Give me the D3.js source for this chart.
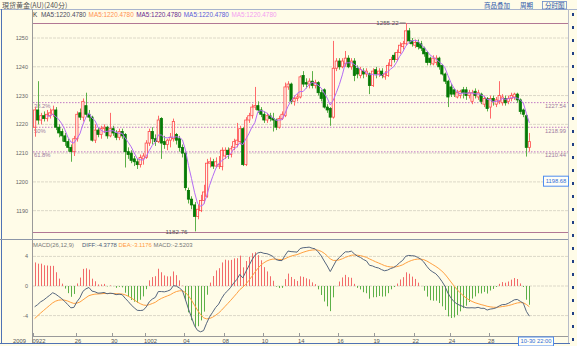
<!DOCTYPE html>
<html lang="zh">
<head>
<meta charset="UTF-8">
<title>現货黄金(AU)(240分)</title>
<style>
  html, body { margin: 0; padding: 0; background: #fffce8; overflow: hidden; }
  svg { display: block; font-family: "Liberation Sans", Arial, sans-serif; }
</style>
</head>
<body>
<svg id="chart" width="577" height="346"></svg>
<script src="https://d3js.org/d3.v7.min.js"></script>
<script>
// 240分 K线 (open / high / low / close)
const opens = [1219,1225,1221.5,1223,1222,1223,1223.5,1225,1219,1217.5,
  1216,1214,1212,1210.5,1215,1224,1222.5,1226.5,1223.5,1222.5,
  1214.5,1218,1216.5,1218.5,1219,1216,1218.5,1217,1215.5,1217.5,
  1216.5,1210.5,1210,1208,1207,1206,1208,1208.5,1213.5,1217.5,
  1215,1214,1222,1214,1213,1214.5,1215,1216.5,1215,1212,
  1210,1197,1194,1192,1188,1190,1193.5,1195,1206.5,1207,
  1205.5,1205.5,1205.3,1209,1211,1209.5,1212,1213,1214,1218.5,
  1206,1221.5,1223,1226,1226.5,1225,1223.5,1221.5,1223,1222,
  1221.5,1219,1222,1223,1233,1234,1228,1229,1229.5,1237,
  1234.5,1234,1235,1233.5,1234.5,1231,1232,1226,1225.5,1222.5,
  1239.5,1242,1240,1241,1243,1240,1242,1239.5,1237,1238.5,
  1237.5,1237.5,1233.5,1239,1237.5,1238.5,1236.5,1237,1240.5,1244,
  1242.5,1245,1247,1248,1252.5,1249,1247.5,1248.5,1248,1246.5,
  1245,1243,1241,1241.5,1243,1240.5,1237.5,1235,1233,1232,
  1229.5,1230,1232,1232,1230,1228,1231.5,1229.5,1230.5,1227,
  1229,1226,1229,1227,1228,1227.5,1229,1228,1229,1229.5,
  1230.5,1228.5,1225,1223,1212];
const highs = [1226,1235,1224,1224.5,1225,1225.5,1226.5,1226,1220,1218.5,
  1217,1215,1213,1216,1224.5,1225.5,1229,1231,1225,1223,
  1220,1219,1219.5,1220,1219.5,1224,1219.5,1218,1218.5,1218.5,
  1217,1212,1211,1209,1208,1209.5,1210,1214.5,1218.5,1219,
  1216.5,1223,1222.5,1216,1215,1217,1222,1217,1216,1213,
  1210.5,1198,1195,1193,1192,1195.5,1199,1208,1208.5,1208,
  1208.5,1209,1212,1212,1212,1212.5,1215,1220.5,1219.5,1219,
  1222.5,1224,1227,1233,1228,1226,1224.5,1224,1224,1224,
  1222,1223,1224.5,1234.5,1235,1234.5,1230,1230.5,1237,1238.5,
  1236,1236,1238.5,1235.5,1235,1232,1232.5,1227,1226,1249,
  1243,1243,1243,1245.5,1244,1243,1243,1240.5,1240,1239.5,
  1239.5,1238,1239.5,1240,1239.5,1239.5,1238.5,1241.5,1243.5,1245,
  1246,1248.5,1249,1255.2,1253.5,1250,1249.5,1249.5,1249,1247,
  1245.5,1243.5,1244,1244,1243.5,1241,1238,1235.5,1234,1232.5,
  1232,1232,1233,1233,1232,1232,1232.5,1232,1231,1230,
  1229.5,1230,1230,1229.5,1235,1230.5,1230,1230,1231,1231,
  1231,1229,1225.5,1223.5,1217];
const lows = [1215.7,1220,1220,1221,1221,1222,1222.5,1218,1215.5,1214,
  1212.5,1210.5,1207,1209,1214,1221.5,1221,1222.5,1221,1214,
  1213.5,1215.5,1215,1217,1215,1215.5,1216,1214.5,1214.5,1215,
  1205,1208,1206.5,1205.5,1204.5,1205,1206,1208,1212.5,1213,
  1212.5,1213.5,1208,1211.5,1211,1212,1214,1213,1210.5,1208.5,
  1197,1192.5,1190.5,1182.8,1187,1189.5,1192.5,1194.5,1205,1204.5,
  1205,1204.5,1204,1208,1208,1208.5,1211,1212,1213,1205.5,
  1205.5,1220.5,1222,1225,1224,1222.5,1220.5,1220.5,1221,1217.5,
  1218,1218.5,1221.5,1222.5,1232,1227,1226.5,1228,1229,1233,
  1232.5,1232.5,1232.5,1232.5,1230,1228,1225.5,1224,1219.5,1222,
  1238.5,1239,1239.5,1240,1239.5,1239,1235,1236,1236,1236,
  1236.5,1230.5,1233,1236,1236.5,1236,1235.5,1236.5,1240,1241.5,
  1242,1244.5,1246,1247.5,1248,1247,1246.5,1246,1245.5,1243.5,
  1240.5,1240.5,1240.5,1240.5,1239,1237,1234,1226,1229.5,1229.5,
  1229,1229,1229,1228.5,1229,1227,1229,1228.5,1227,1226,
  1224.5,1222,1226.5,1226,1227,1226.5,1226.5,1227,1228,1228.5,
  1227.5,1223.5,1222.5,1208.8,1210.5];
const closes = [1225,1221.5,1223,1222,1223.5,1224,1225,1219,1217,1216,
  1214,1212,1210.5,1215,1223.5,1222.5,1228,1223.5,1222.5,1214.5,
  1218,1216.5,1218.5,1219,1216,1218.5,1217,1215.5,1217.5,1216,
  1210.5,1209.5,1207.5,1207,1206,1208.5,1209,1213.5,1217.5,1215,
  1214,1221.5,1213.5,1213,1214.5,1215.5,1221,1214.5,1212,1210,
  1198,1194,1192,1188,1190.5,1193.5,1196.5,1206.5,1207,1205.5,
  1207,1206,1211,1211,1209.5,1211.5,1214,1214.5,1218.5,1206,
  1221.5,1223,1226,1226.5,1225,1223.5,1221.5,1223,1222,1221.5,
  1219,1222,1223.5,1233,1234,1228,1229,1229.5,1236.5,1234,
  1234,1235,1233.5,1234.5,1231,1229,1226,1225,1222.5,1239.5,
  1242,1240,1242,1243,1240,1242,1237,1237.5,1239,1237.5,
  1238.5,1233.5,1238.5,1237.5,1238.5,1237,1237.5,1240.5,1242.5,1242.5,
  1245,1247.5,1248,1252.5,1249,1248,1248.5,1247,1246.5,1244.5,
  1241.5,1241.5,1243,1243,1240,1237.5,1235,1229.5,1230.5,1230.5,
  1231,1231.5,1231,1230,1231,1231,1230,1231,1228,1229,
  1225.5,1229,1228,1228.5,1230,1229.5,1227.5,1229,1230,1230.5,
  1228.5,1224.5,1223.5,1212,1214];

const dateTicks = [[0, "0922"], [14, "26"], [26, "30"], [37, "1002"], [50, "04"], [63, "08"], [76, "10"],
  [88, "14"], [101, "16"], [113, "19"], [126, "22"], [138, "24"], [151, "28"]];
const priceTicks = [1190, 1200, 1210, 1220, 1230, 1240, 1250];
const macdTicks = [4, 0, -4];
const fibLevels = [1227.54, 1218.99, 1210.44];
const fibNames = ["38.2%", "50%", "61.8%"];
const highMark = 1255.22, lowMark = 1182.76;
const lastPriceBox = 1198.68;
const maHeader = ["MA5:1220.4780", "MA5:1220.4780", "MA5:1220.4780", "MA5:1220.4780", "MA5:1220.4780"];
const maColors = ["#4a4a60", "#ff9050", "#6a2a90", "#5a5ad8", "#f49cf0"];
// MACD 起始状态（图左侧之前的状态）
const macdStart = { ema12: 1219.6, ema26: 1223.1, dea: -4.8 };

const svg = d3.select("#chart");
const W = 577, H = 346;
const X0 = 33, X1 = 568;
const N = closes.length;

svg.append("rect").attr("width", W).attr("height", H).attr("fill", "#fffce8");

const x = d3.scaleBand().domain(d3.range(N)).range([33.5, 530.5]).paddingInner(0.25);
const cx = i => x(i) + x.bandwidth() / 2;
const y = d3.scaleLinear().domain([lowMark, highMark]).range([231.5, 23]);
const ym = d3.scaleLinear().domain([-4, 4]).range([315.6, 256.4]);

// MA5 and MACD from closes
const ma = closes.map((c, i) => i < 4 ? null : d3.mean(closes.slice(i - 4, i + 1)));
let e12 = macdStart.ema12, e26 = macdStart.ema26, dea = macdStart.dea;
const diffs = [], deas = [], bars = [];
closes.forEach(c => {
  e12 = e12 + (c - e12) * 2 / 13;
  e26 = e26 + (c - e26) * 2 / 27;
  const d = e12 - e26;
  dea = dea + (d - dea) * 2 / 10;
  diffs.push(d); deas.push(dea); bars.push(2 * (d - dea));
});

// frame
svg.append("line").attr("x1", 0).attr("x2", W).attr("y1", 9.5).attr("y2", 9.5).attr("stroke", "#a8b4cc");
svg.append("line").attr("x1", 1.5).attr("x2", 1.5).attr("y1", 9).attr("y2", 344).attr("stroke", "#4f72b4");
svg.append("line").attr("x1", 0).attr("x2", 570).attr("y1", 343.5).attr("y2", 343.5).attr("stroke", "#4f72b4");
svg.append("line").attr("x1", X0 - 0.5).attr("x2", X0 - 0.5).attr("y1", 9).attr("y2", 343).attr("stroke", "#9a9a9a");
svg.append("line").attr("x1", X1 + 0.5).attr("x2", X1 + 0.5).attr("y1", 9).attr("y2", 343).attr("stroke", "#b8bcc8");
d3.range(13, 342, 13).forEach(v => {
  svg.append("rect").attr("x", 572).attr("y", v).attr("width", 2).attr("height", 3).attr("fill", "#1f3f86");
});

// title + buttons
svg.append("text").attr("x", 2).attr("y", 7.5).attr("font-size", 7)
  .attr("font-family", "'Noto Sans CJK TC', sans-serif").attr("fill", "#555").text("現货黄金(AU)(240分)");
svg.append("text").attr("x", 484).attr("y", 7.5).attr("font-size", 6.5)
  .attr("font-family", "'Noto Sans CJK SC', sans-serif").attr("fill", "#2a56a8").text("商品叠加");
svg.append("text").attr("x", 520).attr("y", 7.5).attr("font-size", 6.5)
  .attr("font-family", "'Noto Sans CJK SC', sans-serif").attr("fill", "#2a56a8").text("周期");
svg.append("rect").attr("x", 542.5).attr("y", 1.5).attr("width", 24).attr("height", 7.5)
  .attr("fill", "none").attr("stroke", "#6a8ac8").attr("stroke-width", 0.8);
svg.append("text").attr("x", 545).attr("y", 7.5).attr("font-size", 6.5)
  .attr("font-family", "'Noto Sans CJK SC', sans-serif").attr("fill", "#2a56a8").text("分时图");

// MA header
svg.append("text").attr("x", 33).attr("y", 17).attr("font-size", 6.4).attr("fill", "#333").text("K");
maHeader.forEach((t, i) => {
  svg.append("text").attr("x", 41 + i * 47.6).attr("y", 17).attr("font-size", 6.4)
    .attr("fill", maColors[i]).text(t);
});

// price grid
priceTicks.forEach(v => {
  svg.append("line").attr("x1", X0).attr("x2", X1).attr("y1", y(v)).attr("y2", y(v))
    .attr("stroke", "#dcd8c8").attr("stroke-dasharray", "3,1");
  svg.append("text").attr("x", 28).attr("y", y(v) + 2).attr("text-anchor", "end")
    .attr("font-size", 5.5).attr("fill", "#666").text(v);
});

// high / low lines
[highMark, lowMark].forEach(v => {
  svg.append("line").attr("x1", X0).attr("x2", X1).attr("y1", Math.round(y(v)) + 0.5).attr("y2", Math.round(y(v)) + 0.5)
    .attr("stroke", "#b27894");
});

// fib lines
fibLevels.forEach((v, i) => {
  svg.append("line").attr("x1", X0).attr("x2", X1).attr("y1", y(v)).attr("y2", y(v))
    .attr("stroke", "#c178c4").attr("stroke-dasharray", "1.5,1.5");
  svg.append("text").attr("x", 34).attr("y", y(v) + 5.5).attr("font-size", 5.8).attr("fill", "#a07aa0").text(fibNames[i]);
  svg.append("text").attr("x", 566).attr("y", y(v) + 5.5).attr("text-anchor", "end")
    .attr("font-size", 5.8).attr("fill", "#a07aa0").text(v.toFixed(2));
});

// candles
const up = i => closes[i] >= opens[i];
const bw = x.bandwidth();
const cg = svg.append("g");
cg.selectAll("line.wick").data(d3.range(N)).join("line")
  .attr("x1", i => Math.round(cx(i)) + 0.5).attr("x2", i => Math.round(cx(i)) + 0.5)
  .attr("y1", i => y(highs[i])).attr("y2", i => y(lows[i]))
  .attr("stroke", i => up(i) ? "#ff6a6a" : "#5cb048").attr("stroke-width", 1);
cg.selectAll("rect.body").data(d3.range(N)).join("rect")
  .attr("x", i => cx(i) - bw / 2)
  .attr("y", i => y(Math.max(opens[i], closes[i])))
  .attr("width", bw)
  .attr("height", i => Math.max(1, Math.abs(y(opens[i]) - y(closes[i]))))
  .attr("fill", i => up(i) ? "#fff6ee" : "#057a05")
  .attr("stroke", i => up(i) ? "#ff4a4a" : "#057a05")
  .attr("stroke-width", 0.8);

// MA line
svg.append("path").datum(d3.range(N).filter(i => ma[i] != null))
  .attr("d", d3.line().x(cx).y(i => y(ma[i])))
  .attr("fill", "none").attr("stroke", "#b46cf4").attr("stroke-width", 1);

// high / low labels
const hi = d3.maxIndex(highs), lo = d3.minIndex(lows);
svg.append("text").attr("x", cx(hi) - 7).attr("y", y(highMark) + 2).attr("text-anchor", "end")
  .attr("font-size", 6.2).attr("fill", "#555").text(highMark.toFixed(2));
svg.append("line").attr("x1", cx(hi) - 6).attr("x2", cx(hi)).attr("y1", y(highMark)).attr("y2", y(highMark)).attr("stroke", "#777");
svg.append("text").attr("x", cx(lo) - 7).attr("y", y(lowMark) + 2).attr("text-anchor", "end")
  .attr("font-size", 6.2).attr("fill", "#555").text(lowMark.toFixed(2));

// price box
const by = y(lastPriceBox);
svg.append("rect").attr("x", 543.5).attr("y", by - 9.5).attr("width", 25).attr("height", 10)
  .attr("fill", "#fffef6").attr("stroke", "#4f8cf0");
svg.append("text").attr("x", 556).attr("y", by - 2.3).attr("text-anchor", "middle")
  .attr("font-size", 5.8).attr("fill", "#2f6fd8").text(lastPriceBox.toFixed(2));

// separator
svg.append("line").attr("x1", 0).attr("x2", X1).attr("y1", 239.5).attr("y2", 239.5).attr("stroke", "#8c96a8");

// MACD header
const mh = [["MACD(26,12,9)", "#777", 33], ["DIFF:-4.3778", "#4a5a78", 82],
  ["DEA:-3.1176", "#ff9a40", 118.5], ["MACD:-2.5203", "#777", 153.5]];
mh.forEach(d => svg.append("text").attr("x", d[2]).attr("y", 247).attr("font-size", 5.9).attr("fill", d[1]).text(d[0]));

macdTicks.forEach(v => {
  svg.append("line").attr("x1", X0).attr("x2", X1).attr("y1", ym(v)).attr("y2", ym(v))
    .attr("stroke", "#dcd8c8").attr("stroke-dasharray", "3,1");
  svg.append("text").attr("x", 28).attr("y", ym(v) + 2).attr("text-anchor", "end")
    .attr("font-size", 5.5).attr("fill", "#666").text(v);
});

svg.append("g").selectAll("line").data(d3.range(N)).join("line")
  .attr("x1", i => Math.round(cx(i)) + 0.5).attr("x2", i => Math.round(cx(i)) + 0.5)
  .attr("y1", ym(0)).attr("y2", i => ym(bars[i]))
  .attr("stroke", i => bars[i] >= 0 ? "#f26a6a" : "#5cb048").attr("stroke-width", 1);

svg.append("path").datum(d3.range(N)).attr("d", d3.line().x(cx).y(i => ym(deas[i])))
  .attr("fill", "none").attr("stroke", "#ffa040").attr("stroke-width", 1);
svg.append("path").datum(d3.range(N)).attr("d", d3.line().x(cx).y(i => ym(diffs[i])))
  .attr("fill", "none").attr("stroke", "#56667e").attr("stroke-width", 1);

// x axis
svg.append("line").attr("x1", X0).attr("x2", X1).attr("y1", 336.5).attr("y2", 336.5).attr("stroke", "#9a9a9a");
dateTicks.forEach(([i, t]) => {
  svg.append("line").attr("x1", Math.round(x(i)) + 0.5).attr("x2", Math.round(x(i)) + 0.5)
    .attr("y1", 333).attr("y2", 336.5).attr("stroke", "#9a9a9a");
  svg.append("text").attr("x", x(i) - 1).attr("y", 343).attr("font-size", 5.8).attr("fill", "#555").text(t);
});
svg.append("text").attr("x", 13).attr("y", 343).attr("font-size", 5.8).attr("fill", "#555").text("2009");
svg.append("rect").attr("x", 518.5).attr("y", 337).attr("width", 35).attr("height", 9)
  .attr("fill", "#fffef6").attr("stroke", "#4f8cf0");
svg.append("text").attr("x", 536).attr("y", 343).attr("text-anchor", "middle")
  .attr("font-size", 5.8).attr("fill", "#2f6fd8").text("10-30 22:00");
</script>
</body>
</html>
